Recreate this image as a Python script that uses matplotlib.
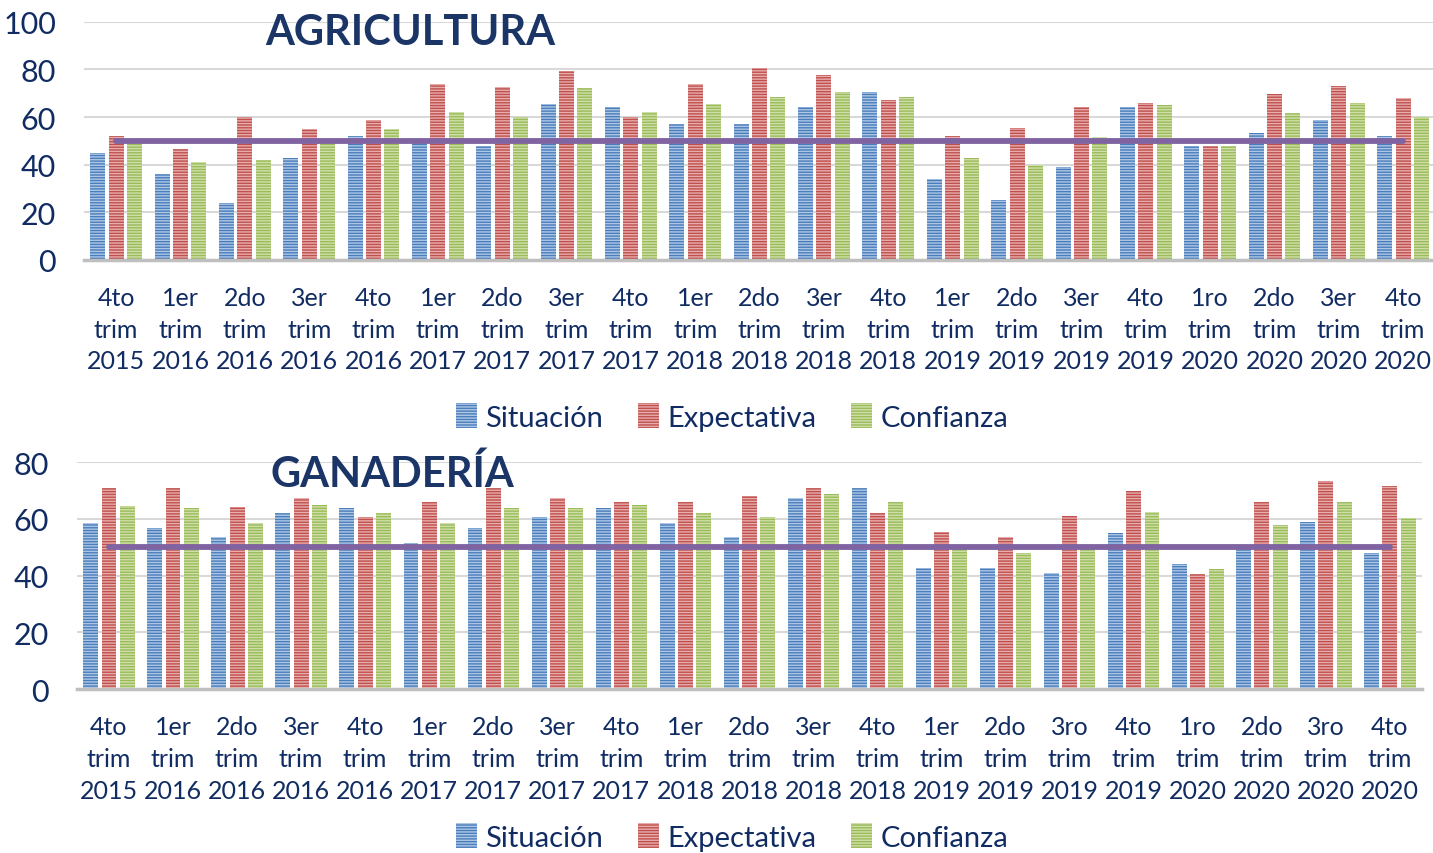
import numpy as np
import matplotlib
matplotlib.use("Agg")
import matplotlib.pyplot as plt

# datos
etiquetas_agri = ["4to\ntrim\n2015", "1er\ntrim\n2016", "2do\ntrim\n2016", "3er\ntrim\n2016",
                  "4to\ntrim\n2016", "1er\ntrim\n2017", "2do\ntrim\n2017", "3er\ntrim\n2017",
                  "4to\ntrim\n2017", "1er\ntrim\n2018", "2do\ntrim\n2018", "3er\ntrim\n2018",
                  "4to\ntrim\n2018", "1er\ntrim\n2019", "2do\ntrim\n2019", "3er\ntrim\n2019",
                  "4to\ntrim\n2019", "1ro\ntrim\n2020", "2do\ntrim\n2020", "3er\ntrim\n2020",
                  "4to\ntrim\n2020"]
etiquetas_gana = ["4to\ntrim\n2015", "1er\ntrim\n2016", "2do\ntrim\n2016", "3er\ntrim\n2016",
                  "4to\ntrim\n2016", "1er\ntrim\n2017", "2do\ntrim\n2017", "3er\ntrim\n2017",
                  "4to\ntrim\n2017", "1er\ntrim\n2018", "2do\ntrim\n2018", "3er\ntrim\n2018",
                  "4to\ntrim\n2018", "1er\ntrim\n2019", "2do\ntrim\n2019", "3ro\ntrim\n2019",
                  "4to\ntrim\n2019", "1ro\ntrim\n2020", "2do\ntrim\n2020", "3ro\ntrim\n2020",
                  "4to\ntrim\n2020"]

agri_situacion = [45, 36, 24, 43, 52, 49, 48, 65.5, 64, 57, 57, 64, 70.6, 34, 25, 39, 64.3, 48, 53.4, 58.8, 52]
agri_expectativa = [52, 46.4, 60.2, 55, 58.6, 74, 72.4, 79.4, 60.2, 74, 80.4, 77.6, 67.2, 52, 55.2, 64.3, 66, 48, 69.6, 73.1, 67.8]
agri_confianza = [49, 41.2, 42, 49, 55, 62, 60.2, 72.3, 62, 65.3, 68.6, 70.6, 68.6, 42.6, 40, 51.6, 65, 47.8, 61.5, 66, 59.8]

gana_situacion = [58.4, 56.9, 53.5, 62, 63.8, 51.6, 56.9, 60.5, 63.8, 58.5, 53.5, 67.2, 70.7, 42.7, 42.7, 40.8, 55, 44.2, 49.6, 58.9, 48]
gana_expectativa = [70.8, 70.9, 64, 67.5, 60.6, 65.8, 70.9, 67.5, 65.8, 65.8, 68.1, 70.8, 62.2, 55.2, 53.5, 60.9, 69.8, 40.6, 66, 73.2, 71.4]
gana_confianza = [64.4, 63.8, 58.5, 64.7, 62, 58.5, 63.8, 63.8, 64.7, 62, 60.7, 68.9, 66, 49.3, 48, 49.6, 62.3, 42.2, 57.8, 65.9, 60.3]

umbral = 50
series = ["Situación", "Expectativa", "Confianza"]
colores = ["#4A7EBB", "#C0504D", "#9BBB59"]
rayas = ["#ADC6E6", "#E6ADAC", "#CFDFAA"]
azul_texto = "#112C62"

plt.rcParams['font.family'] = ['Lato', 'DejaVu Sans']
plt.rcParams['hatch.linewidth'] = 1.0

fig = plt.figure(figsize=(14.33, 8.54), dpi=100)


def dibujar(ax, etiquetas, valores, titulo, ymax, titulo_xy, legend_y):
    x = np.arange(len(etiquetas))
    ancho = 0.233
    paso = 0.285
    for k, (vals, nombre) in enumerate(zip(valores, series)):
        ax.bar(x + (k - 1) * paso, vals, width=ancho, color=colores[k],
               edgecolor=rayas[k], linewidth=0, hatch="------", label=nombre, zorder=2)
    ax.plot(x, [umbral] * len(x), color="#8064A2", linewidth=4.2,
            solid_capstyle="round", zorder=3)
    ax.set_xlim(-0.5, len(x) - 0.5)
    ax.set_ylim(0, ymax)
    ax.set_yticks(np.arange(0, ymax + 1, 20))
    ax.set_xticks(x)
    ax.set_xticklabels(etiquetas, fontsize=18, color=azul_texto, linespacing=1.45)
    ax.tick_params(axis="x", length=0, pad=19)
    ax.tick_params(axis="y", length=0, pad=20, labelsize=22, labelcolor=azul_texto)
    ax.grid(axis="y", color="#D9D9D9", linewidth=1.5, zorder=0)
    ax.set_axisbelow(True)
    for lado in ["top", "right", "left"]:
        ax.spines[lado].set_visible(False)
    ax.spines["bottom"].set_color("#BFBFBF")
    ax.spines["bottom"].set_linewidth(2.5)
    ax.spines["bottom"].set_zorder(4)
    fig.text(titulo_xy[0], titulo_xy[1], titulo, fontsize=30, fontweight="bold",
             color="#1B3566", ha="center", va="center")
    fig.legend(*ax.get_legend_handles_labels(), loc="center", ncol=3,
               bbox_to_anchor=(0.511, legend_y), frameon=False, fontsize=21,
               labelcolor=azul_texto, handlelength=0.7, handleheight=0.9,
               handletextpad=0.3, columnspacing=1.2)


ax1 = fig.add_axes([0.0586, 0.6944, 0.943, 0.279])
dibujar(ax1, etiquetas_agri, [agri_situacion, agri_expectativa, agri_confianza],
        "AGRICULTURA", 100, (0.286, 1 - 33 / 854), 1 - 418 / 854)

ax2 = fig.add_axes([0.0537, 0.192, 0.9386, 0.2658])
dibujar(ax2, etiquetas_gana, [gana_situacion, gana_expectativa, gana_confianza],
        "GANADERÍA", 80, (0.274, 1 - 474 / 854), 1 - 838 / 854)

fig.savefig("out.png", dpi=100, facecolor="white")
